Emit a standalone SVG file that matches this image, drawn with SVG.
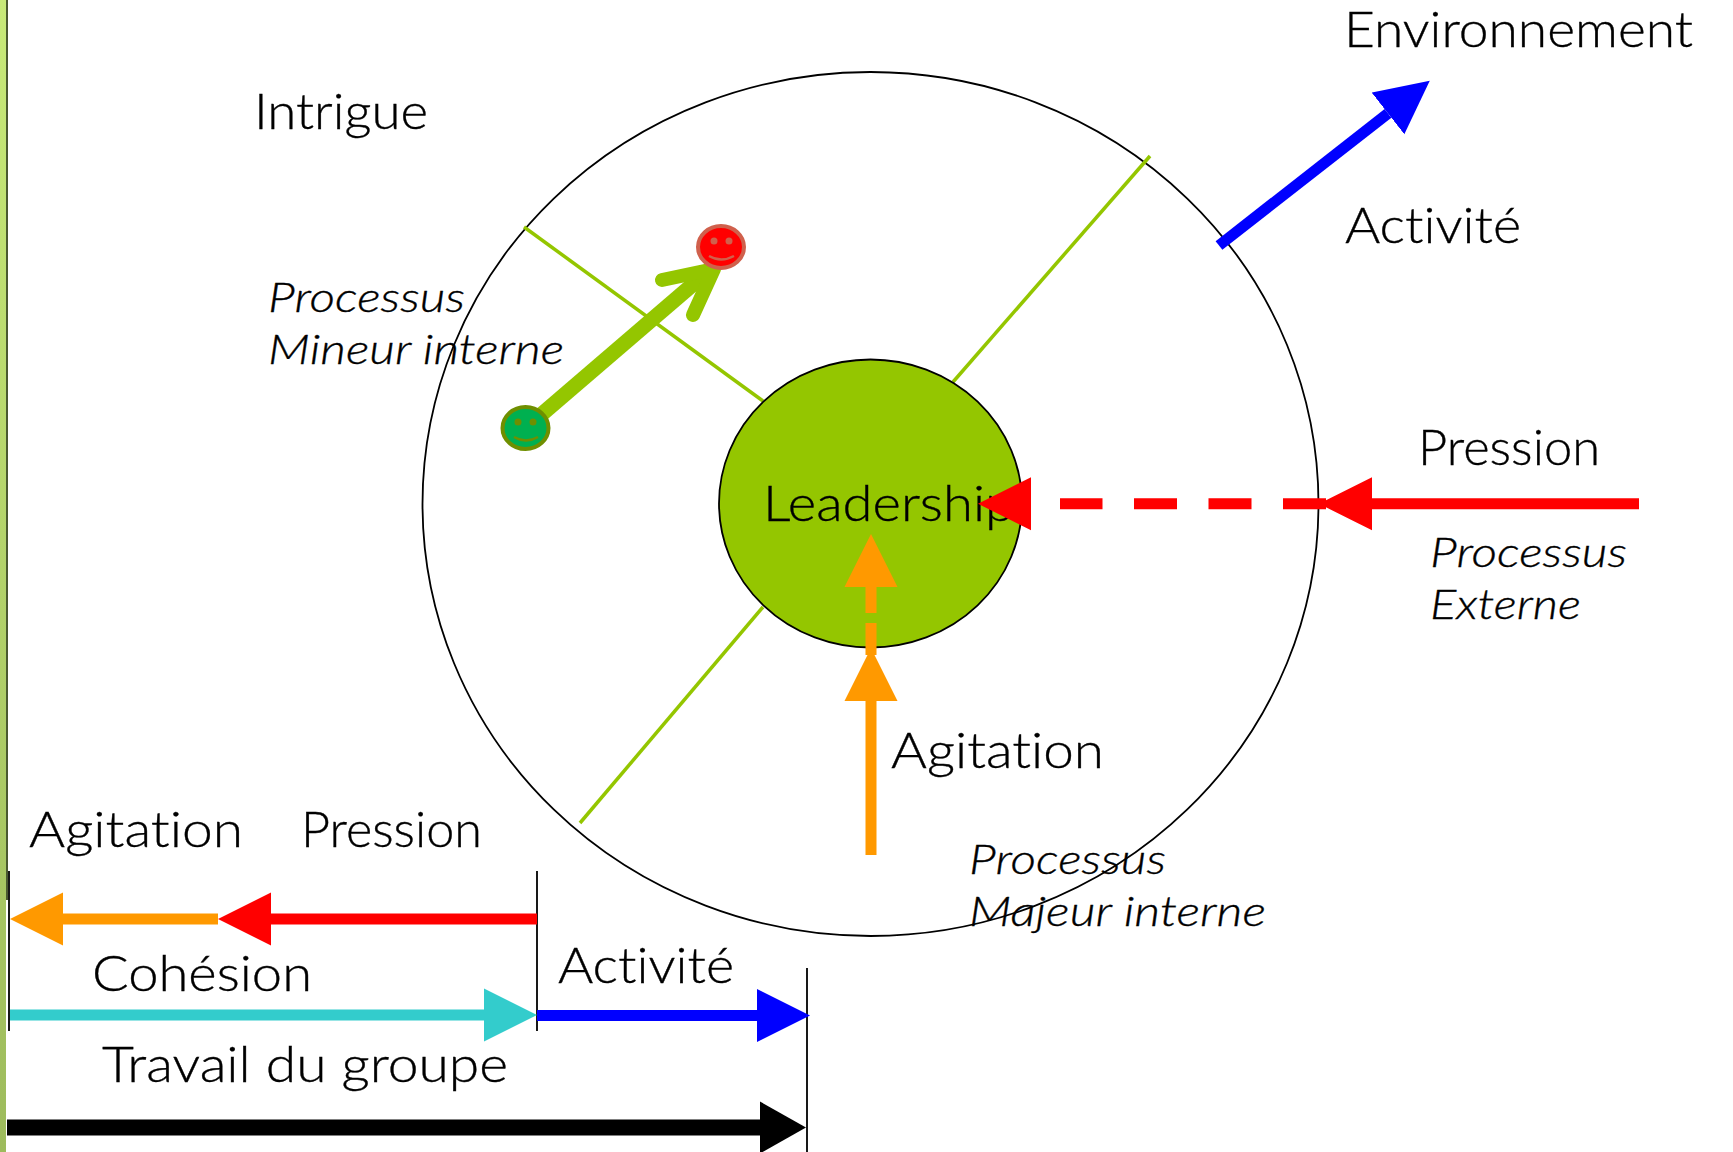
<svg xmlns="http://www.w3.org/2000/svg" width="1733" height="1152" viewBox="0 0 1733 1152">
<style>
text{font-family:"Lato","Liberation Sans",sans-serif;font-size:49px;fill:#000;stroke:#000;stroke-width:.35;font-weight:300;font-variant-ligatures:none}
.i{font-style:italic;font-size:42px}
.ring{fill:none;stroke:#000;stroke-width:1.8}
.g{stroke:#94c600;stroke-width:3.5;fill:none}
.a{stroke-width:11;fill:none}
.tick{stroke:#000;stroke-width:1.8}
</style>
<defs>
<linearGradient id="band" x1="0" y1="0" x2="0" y2="1"><stop offset="0" stop-color="#c8ea78"/><stop offset="1" stop-color="#9dbb5c"/></linearGradient>
<marker id="mO" markerUnits="userSpaceOnUse" markerWidth="54" markerHeight="54" refX="0" refY="27" orient="auto"><path d="M0 0.5L53 27L0 53.5Z" fill="#f90"/></marker>
<marker id="mR" markerUnits="userSpaceOnUse" markerWidth="54" markerHeight="54" refX="0" refY="27" orient="auto"><path d="M0 0.5L53 27L0 53.5Z" fill="#f00"/></marker>
<marker id="mB" markerUnits="userSpaceOnUse" markerWidth="54" markerHeight="54" refX="0" refY="27" orient="auto"><path d="M0 0.5L53 27L0 53.5Z" fill="#00f"/></marker>
<marker id="mC" markerUnits="userSpaceOnUse" markerWidth="54" markerHeight="54" refX="0" refY="27" orient="auto"><path d="M0 0.5L53 27L0 53.5Z" fill="#3cc"/></marker>
<marker id="mK" markerUnits="userSpaceOnUse" markerWidth="47" markerHeight="54" refX="0" refY="27" orient="auto"><path d="M0 1L46 27L0 53Z" fill="#000"/></marker>
</defs>
<rect width="1733" height="1152" fill="#fff"/>
<rect width="6" height="1152" fill="url(#band)"/>
<rect x="6" width="2" height="900" fill="#4a5a30"/>

<g id="ring-outer"><ellipse class="ring" cx="870.5" cy="504" rx="448" ry="432"/></g>
<g id="spokes">
<path class="g" d="M524 227L763 401"/>
<path class="g" d="M1150 156L953 382"/>
<path class="g" d="M763 607L580 823"/>
</g>
<g id="leadership">
<ellipse cx="870.500" cy="503.500" rx="151.500" ry="144" fill="#94c600" stroke="#000" stroke-width="1.8"/>
<text x="763" y="521" textLength="252" lengthAdjust="spacingAndGlyphs">Leadership</text>
</g>

<g id="labels">
<text x="254" y="129" textLength="174" lengthAdjust="spacingAndGlyphs">Intrigue</text>
<text x="1344" y="47" textLength="349" lengthAdjust="spacingAndGlyphs">Environnement</text>
<text x="1345" y="243" textLength="176" lengthAdjust="spacingAndGlyphs">Activité</text>
<text x="1418" y="465" textLength="182" lengthAdjust="spacingAndGlyphs">Pression</text>
<text x="891" y="768" textLength="213" lengthAdjust="spacingAndGlyphs">Agitation</text>
<text class="i" x="268" y="312" textLength="197" lengthAdjust="spacingAndGlyphs">Processus</text>
<text class="i" x="268" y="364" textLength="296" lengthAdjust="spacingAndGlyphs">Mineur interne</text>
<text class="i" x="1430" y="567" textLength="197" lengthAdjust="spacingAndGlyphs">Processus</text>
<text class="i" x="1430" y="619" textLength="151" lengthAdjust="spacingAndGlyphs">Externe</text>
<text class="i" x="969" y="874" textLength="197" lengthAdjust="spacingAndGlyphs">Processus</text>
<text class="i" x="969" y="926" textLength="297" lengthAdjust="spacingAndGlyphs">Majeur interne</text>
<text x="29" y="847" textLength="214" lengthAdjust="spacingAndGlyphs">Agitation</text>
<text x="301" y="847" textLength="181" lengthAdjust="spacingAndGlyphs">Pression</text>
<text x="92" y="991" textLength="220" lengthAdjust="spacingAndGlyphs">Cohésion</text>
<text x="558" y="983" textLength="176" lengthAdjust="spacingAndGlyphs">Activité</text>
<text x="102" y="1082" textLength="406" lengthAdjust="spacingAndGlyphs">Travail du groupe</text>
</g>

<g id="connectors">
<path class="a" stroke="#00f" d="M1219 245.500L1388 113.400" marker-end="url(#mB)"/>
<path class="a" stroke="#f00" d="M1639 503.800H1372" marker-end="url(#mR)"/>
<path class="a" stroke="#f00" d="M1326 503.800H1060" stroke-dasharray="43 31.500"/>
<path class="a" stroke="#f00" d="M1060 503.800H1031" stroke-opacity="0" marker-end="url(#mR)"/>
<path class="a" stroke="#f90" d="M871 855V701" marker-end="url(#mO)"/>
<path class="a" stroke="#f90" d="M871 655V623M871 613V587"/>
<path class="a" stroke="#f90" d="M871 600V587" stroke-opacity="0" marker-end="url(#mO)"/>
<path stroke="#94c600" stroke-width="15" fill="none" d="M535 420L712 268"/>
<path stroke="#94c600" stroke-width="14" fill="none" stroke-linecap="round" stroke-linejoin="round" d="M662 280L714 269L693 315"/>
<path class="tick" d="M9 871V1031M537 871V1031M807 968V1152"/>
<path class="a" stroke="#f90" d="M218 919H63" marker-end="url(#mO)"/>
<path class="a" stroke="#f00" d="M537 919H271" marker-end="url(#mR)"/>
<path class="a" stroke="#3cc" d="M10 1015H484" marker-end="url(#mC)"/>
<path class="a" stroke="#00f" d="M537 1015.500H757" marker-end="url(#mB)"/>
<path stroke="#000" stroke-width="16" fill="none" d="M7 1127.500H760" marker-end="url(#mK)"/>
</g>

<g id="smiley-green">
<ellipse cx="525.500" cy="428" rx="23" ry="21" fill="#00b050" stroke="#6f8f00" stroke-width="4"/>
<circle cx="518" cy="422" r="3.500" fill="#6f8f00"/><circle cx="533" cy="422" r="3.500" fill="#6f8f00"/>
<path d="M514 437Q526 444 538 437" fill="none" stroke="#6f8f00" stroke-width="2.500"/>
</g>
<g id="smiley-red">
<ellipse cx="721" cy="247" rx="23" ry="21" fill="#f00" stroke="#d0604c" stroke-width="4"/>
<circle cx="714" cy="241" r="3.500" fill="#d0604c"/><circle cx="729" cy="241" r="3.500" fill="#d0604c"/>
<path d="M709 256Q721 263 734 256" fill="none" stroke="#d0604c" stroke-width="2.500"/>
</g>
</svg>
